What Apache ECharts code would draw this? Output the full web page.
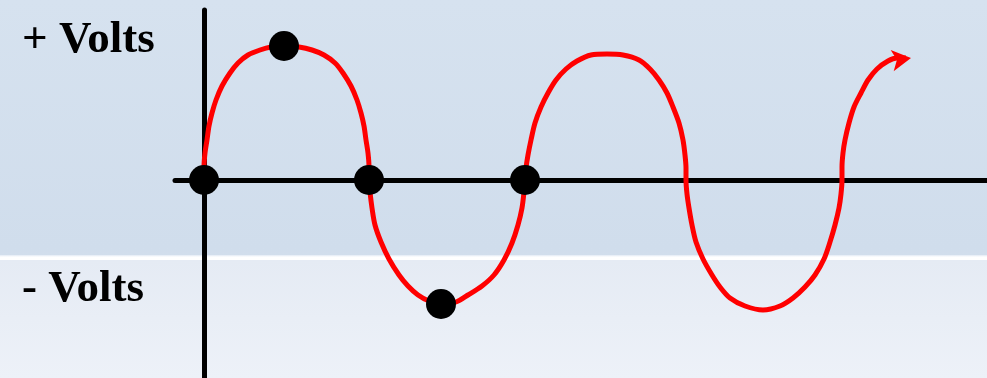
<!DOCTYPE html>
<html>
<head>
<meta charset="utf-8">
<script src="https://cdn.jsdelivr.net/npm/echarts@6/dist/echarts.min.js"></script>
<style>
  html, body { margin: 0; padding: 0; }
  #main { width: 987px; height: 378px; }
</style>
</head>
<body>
<div id="main"></div>
<script>
// wave: [x, volts], x counted from the origin
const wave = [
  // first positive half
  [0, 0], [0, 13], [1, 27], [3, 40], [5, 54], [8, 67], [12, 80], [18, 94], [26, 107],
  [34, 117], [44, 125], [56, 130], [67, 133], [81, 134], [95, 133], [108, 130],
  [120, 125], [131, 117], [139, 107], [147, 94], [153, 80], [157, 67], [160, 54],
  [162, 40], [164, 27], [165, 13], [165, 0],
  // first negative half
  [166, -12], [168, -28], [171, -45], [177, -62], [185, -79], [195, -95], [204, -106],
  [214, -115], [225, -121], [239, -124], [252, -122], [264, -115], [278, -106],
  [290, -95], [300, -80], [308, -63], [314, -45], [318, -28], [320, -12], [321, 0],
  // second positive half
  [322, 12], [324, 25], [327, 40], [331, 57], [337, 73], [344, 87], [352, 100],
  [362, 111], [373, 119], [387, 125], [403, 126], [419, 125], [435, 120], [446, 111],
  [455, 100], [463, 87], [469, 73], [475, 57], [479, 40], [481, 25], [482, 12], [482, 0],
  // second negative half
  [483, -14], [485, -28], [488, -45], [492, -62], [499, -79], [508, -95], [516, -107],
  [526, -118], [541, -126], [559, -130], [576, -126], [589, -118], [601, -107],
  [611, -95], [620, -79], [626, -62], [631, -45], [635, -28], [637, -14], [638, 0],
  // last rise
  [638, 13], [639, 27], [641, 40], [645, 57], [650, 73], [657, 87], [664, 100],
  [673, 111], [684, 119], [693, 122], [702, 122]
]
// black dots
const dots = [[0, 0], [80, 134], [165, 0], [237, -124], [321, 0]]
// arrow head at end of wave
const arrowHead = [[707, 122]]

const labelPlus = '+ Volts'
const labelMinus = '- Volts'

let myChart = echarts.init(document.getElementById('main'))
let option = {
  animation: false,
  backgroundColor: {
    type: 'linear', x: 0, y: 0, x2: 0, y2: 1,
    colorStops: [
      { offset: 0, color: '#d6e2ef' },
      { offset: 0.66, color: '#d0ddec' },
      { offset: 0.675, color: '#d2deec' },
      { offset: 0.675, color: '#e4ebf5' },
      { offset: 0.68, color: '#ffffff' },
      { offset: 0.688, color: '#ffffff' },
      { offset: 0.688, color: '#e5ebf4' },
      { offset: 1, color: '#edf1f8' }
    ]
  },
  grid: { left: 175, right: 0, top: 10, bottom: 0 },
  xAxis: {
    type: 'value', min: -29, max: 783,
    axisLine: { onZero: true, lineStyle: { color: '#000', width: 5 } },
    axisTick: { show: false }, axisLabel: { show: false }, splitLine: { show: false }
  },
  yAxis: {
    type: 'value', min: -198, max: 170,
    axisLine: { show: true, onZero: true, lineStyle: { color: '#000', width: 5 } },
    axisTick: { show: false }, axisLabel: { show: false }, splitLine: { show: false }
  },
  graphic: [
    { type: 'text', left: 22, top: 18, style: { text: labelPlus, font: 'bold 45px "Liberation Serif"', fill: '#000' } },
    { type: 'text', left: 22, top: 267, style: { text: labelMinus, font: 'bold 45px "Liberation Serif"', fill: '#000' } }
  ],
  series: [
    {
      type: 'line', data: wave, smooth: 0.3, symbol: 'none', z: 3,
      lineStyle: { color: '#ff0000', width: 5 }
    },
    {
      type: 'scatter', data: arrowHead, symbol: 'arrow', symbolSize: [16, 19],
      symbolRotate: -82, itemStyle: { color: '#ff0000', opacity: 1 }, z: 4
    },
    {
      type: 'scatter', data: dots, symbolSize: 30, z: 5,
      itemStyle: { color: '#000', opacity: 1 }
    }
  ]
}
myChart.setOption(option)
</script>
</body>
</html>
